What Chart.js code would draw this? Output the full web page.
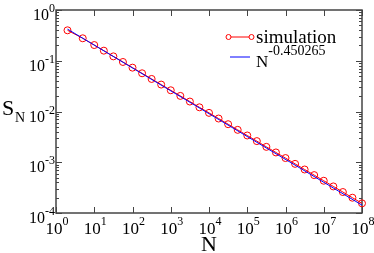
<!DOCTYPE html>
<html>
<head>
<meta charset="utf-8">
<script src="https://cdn.jsdelivr.net/npm/chart.js@4/dist/chart.umd.min.js"></script>
<style>
  html, body { margin: 0; padding: 0; background: #fff; }
  #wrap { width: 374px; height: 253px; }
</style>
</head>
<body>
<div id="wrap"><canvas id="myChart" width="374" height="253"></canvas></div>
<script>
// ---- data ----
var simN = [2, 5, 10, 17.8, 31.6, 56.2, 100, 178, 316, 562, 1000, 1780, 3160, 5620,
            1e4, 1.78e4, 3.16e4, 5.62e4, 1e5, 1.78e5, 3.16e5, 5.62e5, 1e6, 1.78e6,
            3.16e6, 5.62e6, 1e7, 1.78e7, 3.16e7, 5.62e7, 1e8];
var simS = [0.398, 0.277, 0.204, 0.158, 0.122, 0.0946, 0.0731, 0.0566, 0.0438, 0.0339,
            0.0262, 0.0203, 0.0157, 0.0121, 0.0094, 0.00727, 0.00562, 0.00435, 0.00337,
            0.00261, 0.00201, 0.00156, 0.00121, 0.00093, 0.00072, 0.000558, 0.000432,
            0.000334, 0.000259, 0.0002, 0.000155];
var fitN = [2, 1e8];
var fitS = [0.42, 1.43e-4];
var xExp = [0, 1, 2, 3, 4, 5, 6, 7, 8];
var yExp = [0, -1, -2, -3, -4];
var simLabel = "simulation";
var fitBase = "N";
var fitPow = "-0.450265";

function pts(xs, ys) {
    var out = [];
    for (var i = 0; i < xs.length; i++) out.push({x: xs[i], y: ys[i]});
    return out;
}

var SERIF = '"Liberation Serif", "DejaVu Serif", serif';

// frame + inward ticks, then the text bits Chart.js can't do (superscripts)
var framePlugin = {
    id: 'frame',
    beforeDatasetsDraw: function (chart) {
        var c = chart.ctx, a = chart.chartArea;
        var xs = chart.scales.x, ys = chart.scales.y;
        c.save();
        c.strokeStyle = '#444';
        c.lineWidth = 1.5;
        c.strokeRect(a.left, a.top, a.right - a.left, a.bottom - a.top);
        c.lineWidth = 1;
        c.beginPath();
        xExp.forEach(function (k) {
            var px = Math.round(xs.getPixelForValue(Math.pow(10, k))) + 0.5;
            c.moveTo(px, a.bottom); c.lineTo(px, a.bottom - 6);
            c.moveTo(px, a.top); c.lineTo(px, a.top + 6);
        });
        yExp.forEach(function (k) {
            var py = Math.round(ys.getPixelForValue(Math.pow(10, k))) + 0.5;
            c.moveTo(a.left, py); c.lineTo(a.left + 6, py);
            c.moveTo(a.right, py); c.lineTo(a.right - 6, py);
            if (k > -4) {
                for (var m = 2; m <= 9; m++) {
                    var q = Math.round(ys.getPixelForValue(m * Math.pow(10, k - 1))) + 0.5;
                    c.moveTo(a.left, q); c.lineTo(a.left + 3, q);
                    c.moveTo(a.right, q); c.lineTo(a.right - 3, q);
                }
            }
        });
        c.stroke();
        c.restore();
    },
    afterDraw: function (chart) {
        var c = chart.ctx, a = chart.chartArea;
        var xs = chart.scales.x, ys = chart.scales.y;
        c.save();
        c.fillStyle = '#000';
        c.textBaseline = 'alphabetic';
        // y tick labels
        yExp.forEach(function (k) {
            var py = ys.getPixelForValue(Math.pow(10, k));
            c.font = '12px ' + SERIF;
            var e = String(k);
            var ew = c.measureText(e).width;
            c.textAlign = 'left';
            c.fillText(e, a.left - 1 - ew, py + 2);
            c.font = '16px ' + SERIF;
            c.textAlign = 'right';
            c.fillText('10', a.left - 1 - ew, py + 10);
        });
        // x tick labels
        xExp.forEach(function (k) {
            var px = xs.getPixelForValue(Math.pow(10, k));
            c.font = '17px ' + SERIF;
            var bw = c.measureText('10').width;
            c.font = '12px ' + SERIF;
            var ew = c.measureText(String(k)).width;
            var x0 = px - (bw + ew) / 2 + 1;
            c.textAlign = 'left';
            c.font = '17px ' + SERIF;
            c.fillText('10', x0, 234);
            c.font = '12px ' + SERIF;
            c.fillText(String(k), x0 + bw, 225);
        });
        // axis titles
        c.font = '22px ' + SERIF;
        c.textAlign = 'center';
        c.fillText('N', (a.left + a.right) / 2, 251);
        c.textAlign = 'left';
        c.font = '22px ' + SERIF;
        c.fillText('S', 2, 115);
        c.font = '14px ' + SERIF;
        c.fillText('N', 15, 122);
        // legend
        c.strokeStyle = 'red';
        c.lineWidth = 1;
        c.beginPath();
        c.moveTo(231, 37); c.lineTo(249, 37);
        c.stroke();
        [228.5, 251.5].forEach(function (cx) {
            c.beginPath();
            c.arc(cx, 37, 2.5, 0, 2 * Math.PI);
            c.stroke();
        });
        c.font = '19px ' + SERIF;
        c.fillText(simLabel, 256, 43);
        c.strokeStyle = 'blue';
        c.beginPath();
        c.moveTo(230, 57); c.lineTo(250, 57);
        c.stroke();
        c.font = '17px ' + SERIF;
        c.fillText(fitBase, 256, 67);
        var nw = c.measureText(fitBase).width;
        c.font = '14px ' + SERIF;
        c.fillText(fitPow, 256 + nw, 55);
        c.restore();
    }
};

var ctx = document.getElementById('myChart').getContext('2d');
var myChart = new Chart(ctx, {
    type: 'line',
    data: {
        datasets: [{
            label: fitBase + fitPow,
            data: pts(fitN, fitS),
            borderColor: 'blue',
            borderWidth: 1,
            pointRadius: 0,
            fill: false,
            order: 0
        }, {
            label: simLabel,
            data: pts(simN, simS),
            borderColor: 'red',
            borderWidth: 1,
            pointRadius: 3.5,
            pointBorderWidth: 1,
            pointBorderColor: 'red',
            pointBackgroundColor: 'rgba(0,0,0,0)',
            fill: false,
            order: 1
        }]
    },
    options: {
        responsive: false,
        animation: false,
        clip: false,
        layout: { padding: { left: 56, top: 10, right: 12, bottom: 40 } },
        plugins: { legend: { display: false }, tooltip: { enabled: false } },
        scales: {
            x: { type: 'logarithmic', min: 1, max: 1e8, display: false },
            y: { type: 'logarithmic', min: 1e-4, max: 1, display: false }
        }
    },
    plugins: [framePlugin]
});
</script>
</body>
</html>
